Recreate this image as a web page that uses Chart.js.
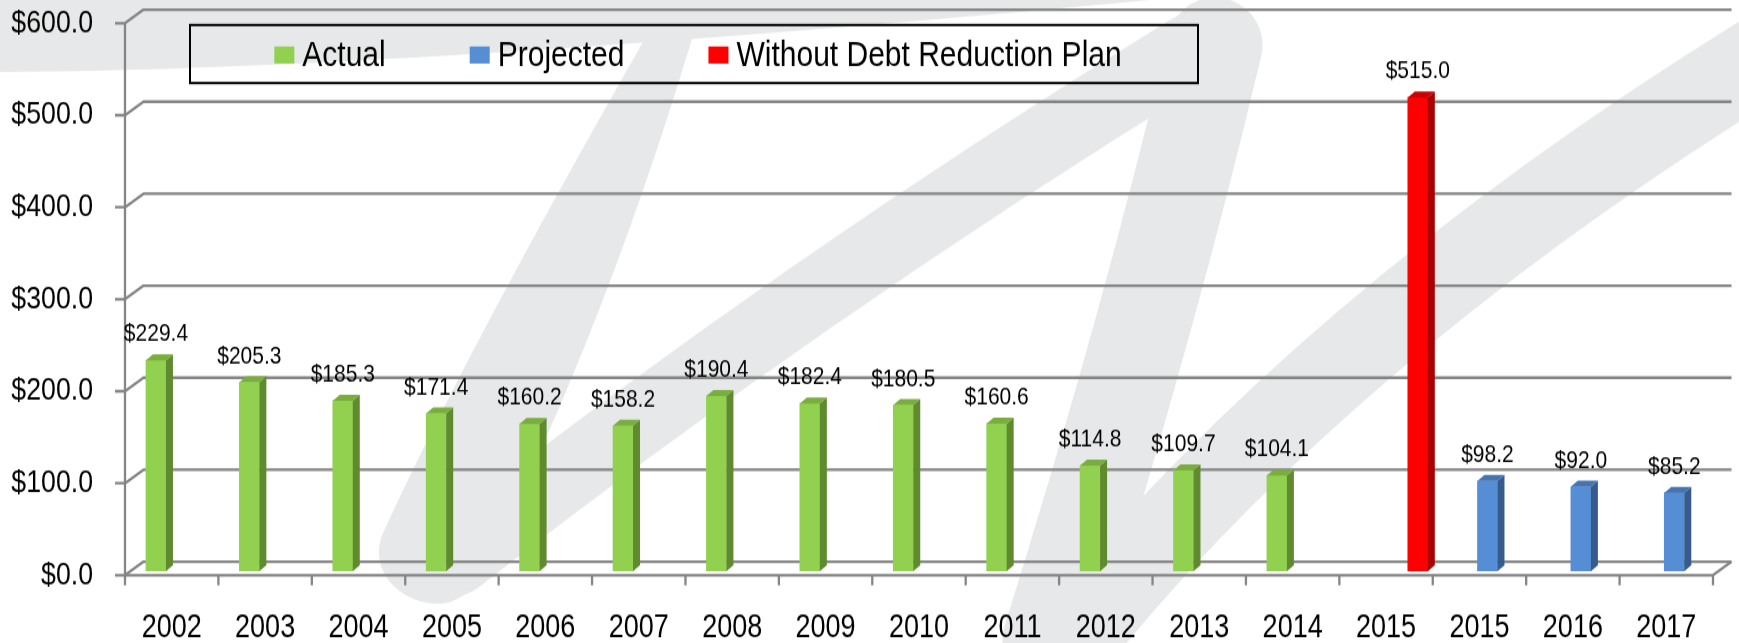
<!DOCTYPE html>
<html>
<head>
<meta charset="utf-8">
<script src="https://cdn.jsdelivr.net/npm/chart.js@4.4.1/dist/chart.umd.min.js"></script>
<style>
html,body{margin:0;padding:0;background:#ffffff;overflow:hidden;width:1739px;height:643px}
#wrap{position:absolute;left:0;top:0;width:1739px;height:536px;transform:scaleY(1.2);transform-origin:0 0}
</style>
</head>
<body>
<div id="wrap"><canvas id="c" width="1739" height="536"></canvas></div>
<script>
// ---------- data ----------
const categories = ['2002','2003','2004','2005','2006','2007','2008','2009','2010','2011','2012','2013','2014','2015','2015','2016','2017'];
const actualValues = [229.4,205.3,185.3,171.4,160.2,158.2,190.4,182.4,180.5,160.6,114.8,109.7,104.1,null,null,null,null];
const projectedValues = [null,null,null,null,null,null,null,null,null,null,null,null,null,null,98.2,92.0,85.2];
const withoutPlanValues = [null,null,null,null,null,null,null,null,null,null,null,null,null,515.0,null,null,null];
const seriesNames = ['Actual','Projected','Without Debt Reduction Plan'];
const yMin = 0, yMax = 600, yStep = 100;

// The picture is drawn on a canvas that is stretched vertically by SY (tall, narrow lettering).
const SY = 1.2;
const FONT = "'Liberation Sans', Arial, sans-serif";
const GRID = '#858585';
const SHIFT = 8;                               // series cluster offset vs category frame
const FRONT = 4 / SY;                          // front edge below bar plane
const D3 = {dx: 18.5, dy: -13.5 / SY};         // wall depth
const BAR3D = {dx: 7, dy: -6 / SY};

// background watermark (decoration), drawn in unstretched coordinates
const watermark = {
  id: 'watermark',
  beforeDraw(chart) {
    const ctx = chart.ctx;
    ctx.save();
    ctx.fillStyle = '#ffffff';
    ctx.fillRect(0, 0, chart.width, chart.height);
    ctx.scale(1, 1 / SY);
    ctx.fillStyle = '#e7e8e9';
    ctx.strokeStyle = '#e7e8e9';
    ctx.lineCap = 'round';
    // top swoosh
    ctx.beginPath();
    ctx.moveTo(0, 0); ctx.lineTo(0, 72);
    ctx.quadraticCurveTo(400, 70, 1150, 0);
    ctx.closePath(); ctx.fill();
    // left tapering stroke
    ctx.beginPath();
    ctx.moveTo(670, -5);
    ctx.quadraticCurveTo(473.5, 336, 383, 533);
    ctx.bezierCurveTo(365, 575, 410, 612, 450, 602);
    ctx.quadraticCurveTo(478, 592, 488, 560);
    ctx.quadraticCurveTo(611.5, 316.5, 705, -5);
    ctx.closePath(); ctx.fill();
    const s = (p0, c, p1, w) => {
      ctx.lineWidth = w; ctx.beginPath();
      ctx.moveTo(p0[0], p0[1]); ctx.quadraticCurveTo(c[0], c[1], p1[0], p1[1]); ctx.stroke();
    };
    s([455, 560], [800, 290], [1190, 50], 72);
    s([1215, 45], [1150, 320], [1050, 640], 95);
    s([1070, 645], [1330, 320], [1790, 40], 85);
    ctx.restore();
  }
};

// 3D frame: walls, floor, axis lines
const frame3d = {
  id: 'frame3d',
  beforeDatasetsDraw(chart) {
    const ctx = chart.ctx, x = chart.scales.x, y = chart.scales.y;
    const L = x.left - SHIFT, R = x.right - SHIFT;
    const tk = 10 / SY;
    ctx.save();
    ctx.strokeStyle = GRID; ctx.lineWidth = 2.3; ctx.lineJoin = 'round';
    for (let v = yMin; v <= yMax; v += yStep) {
      const f = y.getPixelForValue(v) + FRONT, b = f + D3.dy;
      ctx.beginPath();
      ctx.moveTo(L - 10, f); ctx.lineTo(L, f);
      ctx.lineTo(L + D3.dx, b); ctx.lineTo(R + D3.dx, b);
      ctx.stroke();
    }
    const f0 = y.getPixelForValue(0) + FRONT;
    const fTop = y.getPixelForValue(yMax) + FRONT;
    ctx.beginPath();
    ctx.moveTo(L, fTop); ctx.lineTo(L, f0 + tk);
    ctx.moveTo(L, f0); ctx.lineTo(R, f0); ctx.lineTo(R + D3.dx, f0 + D3.dy);
    for (let i = 0; i <= categories.length; i++) {
      const xb = x.getPixelForValue(i - 0.5) - SHIFT;
      ctx.moveTo(xb, f0); ctx.lineTo(xb, f0 + tk);
    }
    ctx.stroke();
    ctx.restore();
  }
};

// 3D sides / tops of bars, plus value labels
const bars3d = {
  id: 'bars3d',
  afterDatasetsDraw(chart) {
    const ctx = chart.ctx;
    ctx.save();
    chart.data.datasets.forEach((ds, di) => {
      const meta = chart.getDatasetMeta(di);
      meta.data.forEach((bar, i) => {
        const v = ds.data[i];
        if (v === null || v === undefined) return;
        const p = bar.getProps(['x', 'y', 'base', 'width'], true);
        const l = p.x - p.width / 2, r = p.x + p.width / 2;
        ctx.fillStyle = ds.sideColor;
        ctx.beginPath();
        ctx.moveTo(r, p.y); ctx.lineTo(r + BAR3D.dx, p.y + BAR3D.dy);
        ctx.lineTo(r + BAR3D.dx, p.base + BAR3D.dy); ctx.lineTo(r, p.base);
        ctx.closePath(); ctx.fill();
        ctx.fillStyle = ds.topColor;
        ctx.beginPath();
        ctx.moveTo(l, p.y); ctx.lineTo(l + BAR3D.dx, p.y + BAR3D.dy);
        ctx.lineTo(r + BAR3D.dx, p.y + BAR3D.dy); ctx.lineTo(r, p.y);
        ctx.closePath(); ctx.fill();
        ctx.fillStyle = '#000';
        ctx.font = '21px ' + FONT;
        ctx.textAlign = 'center'; ctx.textBaseline = 'middle';
        ctx.fillText('$' + v.toFixed(1), p.x, p.y - 26 / SY);
      });
    });
    ctx.restore();
  }
};

// boxed legend drawn over the plot
const boxedLegend = {
  id: 'boxedLegend',
  afterDraw(chart) {
    const ctx = chart.ctx;
    ctx.save();
    ctx.lineWidth = 2; ctx.strokeStyle = '#000';
    ctx.strokeRect(190, 25 / SY, 1008, 58 / SY);
    ctx.font = '30px ' + FONT;
    ctx.textBaseline = 'middle'; ctx.textAlign = 'left';
    const sw = 20, sh = 17 / SY, gapT = 8, gapI = 84;
    const items = chart.data.datasets.map(d => ({t: d.label, c: d.backgroundColor, w: ctx.measureText(d.label).width}));
    const total = items.reduce((a, it) => a + sw + gapT + it.w, 0) + gapI * (items.length - 1);
    let xx = 698 - total / 2;
    const cy = 55 / SY;
    items.forEach(it => {
      ctx.fillStyle = it.c; ctx.fillRect(xx, cy - sh / 2, sw, sh);
      ctx.fillStyle = '#000'; ctx.fillText(it.t, xx + sw + gapT, cy + 1);
      xx += sw + gapT + it.w + gapI;
    });
    ctx.restore();
  }
};

Chart.defaults.font.family = FONT;
new Chart(document.getElementById('c'), {
  type: 'bar',
  data: {
    labels: categories,
    datasets: [
      {label: seriesNames[0], data: actualValues, backgroundColor: '#92d050', sideColor: '#5f8b2e', topColor: '#79ad3d'},
      {label: seriesNames[1], data: projectedValues, backgroundColor: '#558ed5', sideColor: '#365b8c', topColor: '#4574b0'},
      {label: seriesNames[2], data: withoutPlanValues, backgroundColor: '#ff0000', sideColor: '#a90000', topColor: '#cc0000'}
    ]
  },
  options: {
    responsive: false,
    animation: false,
    devicePixelRatio: 1,
    layout: {padding: {top: 15, right: 18, bottom: 0, left: 0}},
    datasets: {bar: {barThickness: 23.75, maxBarThickness: 20, borderWidth: 0}},
    plugins: {legend: {display: false}, tooltip: {enabled: false}},
    scales: {
      x: {
        grid: {display: false, drawTicks: true, tickLength: 31},
        border: {display: false},
        ticks: {color: '#000', font: {size: 27}, labelOffset: -SHIFT, padding: 0, maxRotation: 0, autoSkip: false},
        afterFit(s) { s.height = 60; }
      },
      y: {
        min: yMin, max: yMax,
        grid: {display: false, drawTicks: true, tickLength: 40},
        border: {display: false},
        ticks: {stepSize: yStep, color: '#000', font: {size: 26.7}, padding: 0, labelOffset: FRONT,
                callback: v => '$' + Number(v).toFixed(1)},
        afterFit(s) { s.width = 133; }
      }
    }
  },
  plugins: [watermark, frame3d, bars3d, boxedLegend]
});
</script>
</body>
</html>
